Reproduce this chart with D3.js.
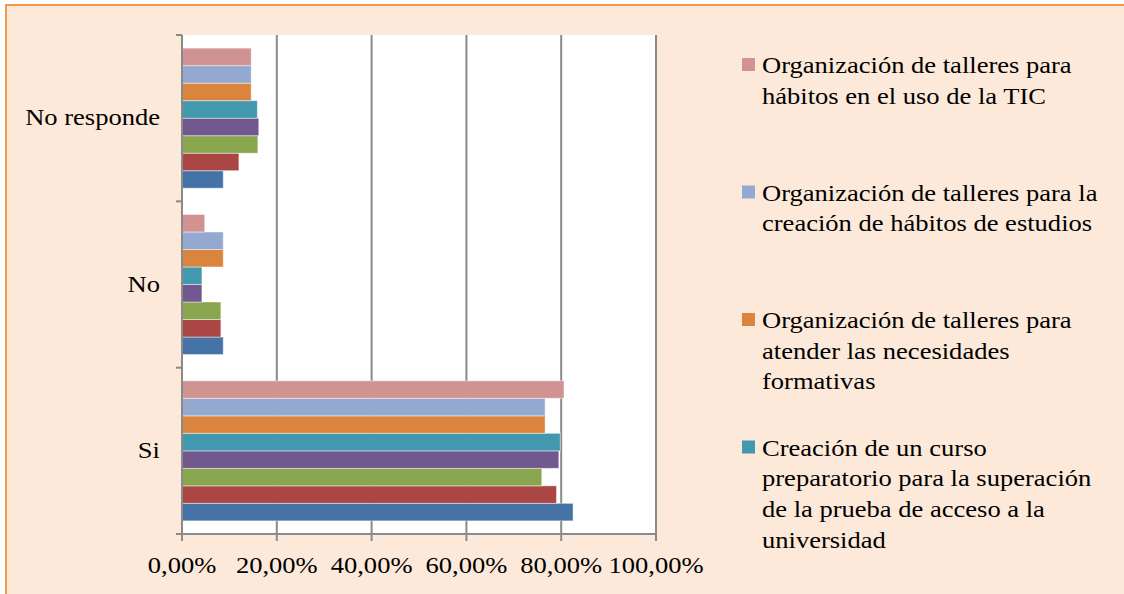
<!DOCTYPE html>
<html>
<head>
<meta charset="utf-8">
<script src="https://cdn.jsdelivr.net/npm/d3@7"></script>
<style>
  body { margin: 0; background: #ffffff; }
  svg { display: block; }
  text { font-family: "Liberation Serif", "Times New Roman", serif; fill: #000; }
</style>
</head>
<body>
<script>
// categories, top to bottom as in the chart
var categories = ["No responde", "No", "Si"];

// series values in %, order: Si, No, No responde
var catOrder = ["Si", "No", "No responde"];
var serie1 = [82.5, 8.7, 8.7];
var serie2 = [79.0, 8.2, 12.0];
var serie3 = [75.9, 8.2, 16.0];
var serie4 = [79.5, 4.2, 16.2];
var serie5 = [79.8, 4.2, 15.9];
var serie6 = [76.6, 8.7, 14.6];
var serie7 = [76.6, 8.7, 14.6];
var serie8 = [80.6, 4.8, 14.6];
var allSeries = [serie1, serie2, serie3, serie4, serie5, serie6, serie7, serie8];

var colors = ["#4572A7", "#AA4643", "#89A54E", "#71588F", "#4198AF", "#DB843D", "#93A9CF", "#D19392"];

var xTicks = [0, 20, 40, 60, 80, 100];

// legend (only the last four series are visible, the rest is cut off)
var legendSeries = [7, 6, 5, 4];
var legendLines = [
  ["Organización de talleres para", "hábitos en el uso de la TIC"],
  ["Organización de talleres para la", "creación de hábitos de estudios"],
  ["Organización de talleres para", "atender las necesidades", "formativas"],
  ["Creación de un curso", "preparatorio para la superación", "de la prueba de acceso a la", "universidad"]
];

var width = 1124, height = 594;
var fs = 22.5, sx = 1.18;   // text is a bit stretched horizontally
var plot = {left: 182, right: 656, top: 35, bottom: 534};

var svg = d3.select("body").append("svg")
  .attr("width", width)
  .attr("height", height);

svg.append("rect")
  .attr("x", 6).attr("y", 5)
  .attr("width", width + 20).attr("height", height + 20)
  .attr("fill", "#FDE9D9")
  .attr("stroke", "#F79646")
  .attr("stroke-width", 2);

svg.append("rect")
  .attr("x", plot.left).attr("y", plot.top)
  .attr("width", plot.right - plot.left).attr("height", plot.bottom - plot.top)
  .attr("fill", "#ffffff");

var x = d3.scaleLinear().domain([0, 100]).range([plot.left, plot.right]);
var y = d3.scaleBand().domain(categories).range([plot.top, plot.bottom]);
var ys = d3.scaleBand().domain(d3.range(8).reverse()).range([0, y.bandwidth()]).paddingOuter(0.75);

// gridlines
svg.append("g").selectAll("line")
  .data(xTicks.slice(1))
  .enter().append("line")
  .attr("x1", d => x(d)).attr("x2", d => x(d))
  .attr("y1", plot.top).attr("y2", plot.bottom)
  .attr("stroke", "#8a8a8a")
  .attr("stroke-width", 2);

// bars
allSeries.forEach(function(vals, si) {
  svg.append("g").selectAll("rect")
    .data(vals)
    .enter().append("rect")
    .attr("x", x(0))
    .attr("y", (d, i) => y(catOrder[i]) + ys(si))
    .attr("width", d => x(d) - x(0))
    .attr("height", ys.bandwidth())
    .attr("fill", colors[si])
    .attr("stroke", "rgba(255,255,255,0.45)")
    .attr("stroke-width", 1);
});

// axes
svg.append("line")
  .attr("x1", plot.left).attr("x2", plot.left)
  .attr("y1", plot.top).attr("y2", plot.bottom)
  .attr("stroke", "#8a8a8a").attr("stroke-width", 2);
svg.append("line")
  .attr("x1", plot.left - 6).attr("x2", plot.right)
  .attr("y1", plot.bottom).attr("y2", plot.bottom)
  .attr("stroke", "#8a8a8a").attr("stroke-width", 2);

var yEdges = categories.map(c => y(c)).concat([plot.bottom]);
svg.append("g").selectAll("line")
  .data(yEdges)
  .enter().append("line")
  .attr("x1", plot.left - 6).attr("x2", plot.left)
  .attr("y1", d => d).attr("y2", d => d)
  .attr("stroke", "#8a8a8a").attr("stroke-width", 2);

svg.append("g").selectAll("line")
  .data(xTicks)
  .enter().append("line")
  .attr("x1", d => x(d)).attr("x2", d => x(d))
  .attr("y1", plot.bottom).attr("y2", plot.bottom + 7)
  .attr("stroke", "#8a8a8a").attr("stroke-width", 2);

// tick labels
var fmt = d => d3.format(".2f")(d).replace(".", ",") + "%";
svg.append("g").selectAll("text")
  .data(xTicks)
  .enter().append("text")
  .attr("transform", d => "translate(" + x(d) + "," + 573 + ") scale(" + sx + ",1)")
  .attr("text-anchor", "middle")
  .style("font-size", fs + "px")
  .text(fmt);

svg.append("g").selectAll("text")
  .data(categories)
  .enter().append("text")
  .attr("transform", d => "translate(160," + (y(d) + y.bandwidth() / 2 + 7) + ") scale(" + sx + ",1)")
  .attr("text-anchor", "end")
  .style("font-size", fs + "px")
  .text(d => d);

// legend
var leg = svg.append("g");
legendSeries.forEach(function(si, k) {
  var base = 73 + k * 127.5;
  leg.append("rect")
    .attr("x", 742).attr("y", base - 15)
    .attr("width", 13).attr("height", 13)
    .attr("fill", colors[si]);
  legendLines[k].forEach(function(line, j) {
    leg.append("text")
      .attr("transform", "translate(762," + (base + j * 30.7) + ") scale(" + sx + ",1)")
      .style("font-size", fs + "px")
      .text(line);
  });
});
</script>
</body>
</html>
